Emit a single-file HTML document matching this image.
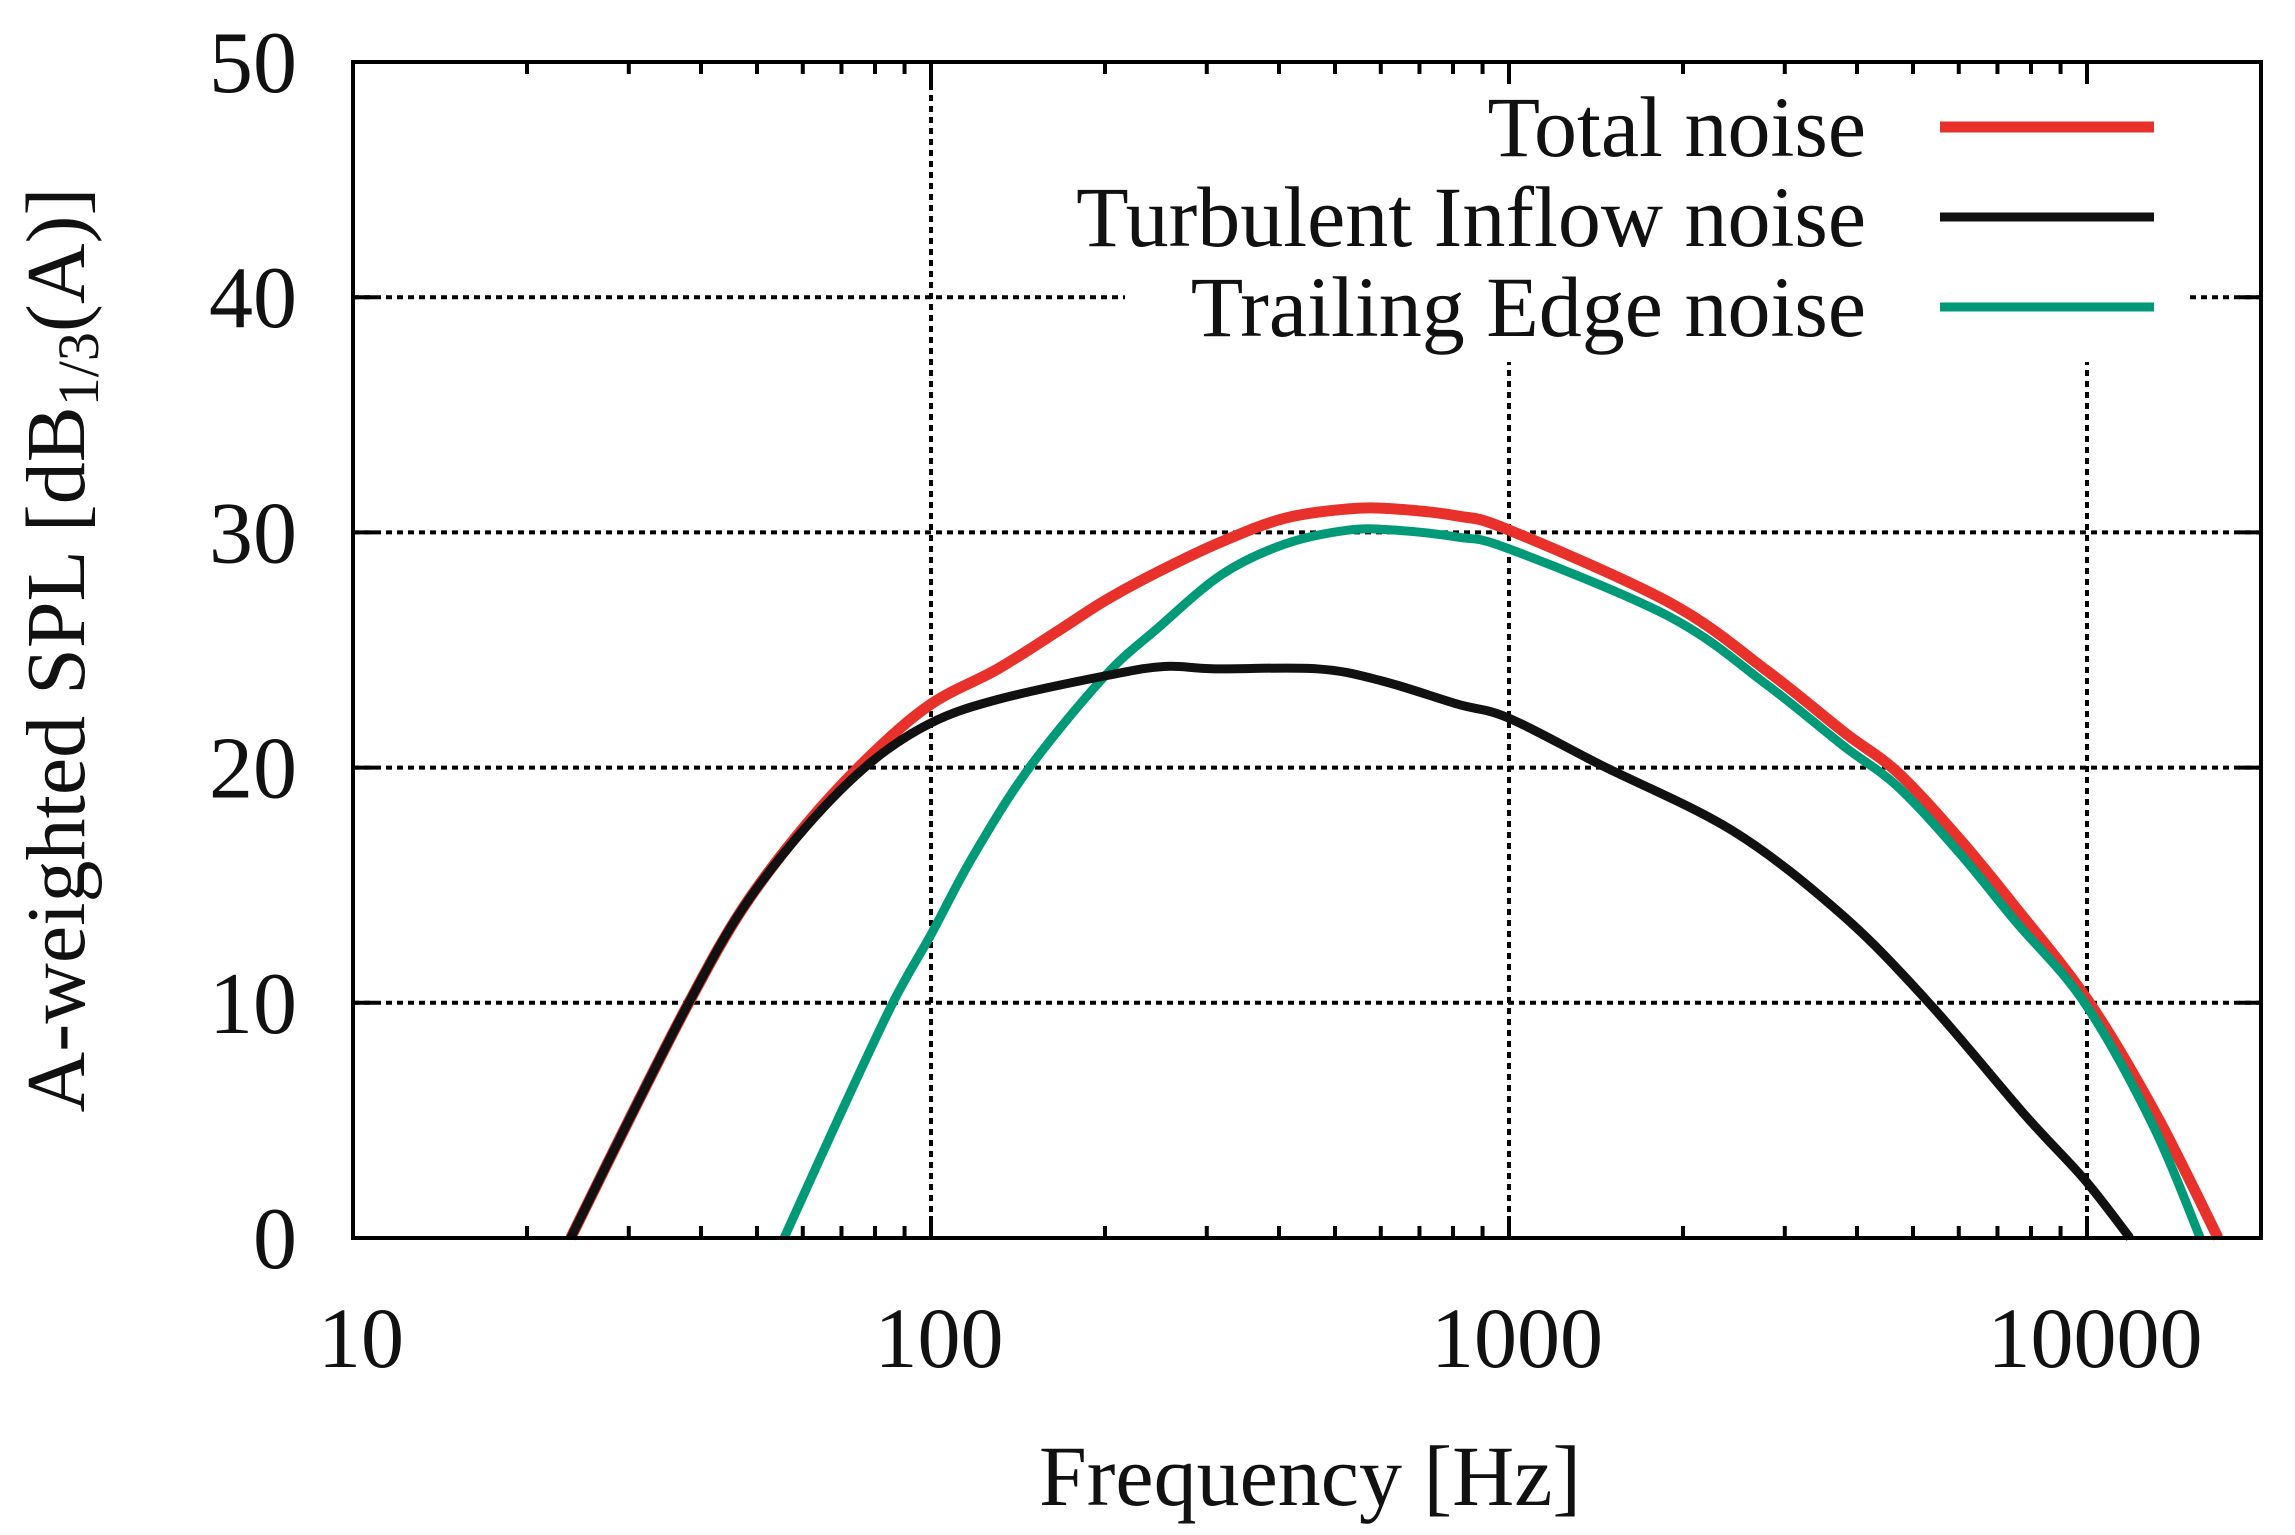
<!DOCTYPE html>
<html><head><meta charset="utf-8"><style>
html,body{margin:0;padding:0;background:#fff;}
svg{display:block;}
text{font-family:"Liberation Serif",serif;fill:#111;}
</style></head><body>
<svg id="chart" width="2295" height="1535" viewBox="0 0 2295 1535" xmlns="http://www.w3.org/2000/svg">
<g id="grid"></g>
<rect x="1125" y="80" width="1065" height="282" fill="#fff"/>
<g id="series"></g>
<g id="axes"></g>
<g id="legend"></g>
<text x="1310" y="1505" font-size="86" text-anchor="middle">Frequency [Hz]</text>
<text transform="translate(84,650) rotate(-90)" font-size="84" text-anchor="middle">A-weighted SPL [dB<tspan font-size="58" dy="14">1/3</tspan><tspan dy="-14">(A)]</tspan></text>
</svg>
<script>
const xTicks = [10, 100, 1000, 10000];
const xTickLabels = ["10", "100", "1000", "10000"];
const yTicks = [0, 10, 20, 30, 40, 50];
const yTickLabels = ["0", "10", "20", "30", "40", "50"];
const seriesNames = ["Total noise", "Turbulent Inflow noise", "Trailing Edge noise"];
const totalFreq = [23.8, 30, 38.1, 47.2, 60.9, 78.5, 100, 130.6, 168, 200, 246, 318, 409, 528, 632, 814, 1000, 1900, 2800, 3800, 4700, 6000, 7500, 10100, 13200, 16860];
const totalDb = [0, 5.0, 10, 14.0, 17.6, 20.5, 22.7, 24.2, 25.9, 27.1, 28.3, 29.6, 30.6, 31.0, 31.0, 30.7, 30.1, 27.0, 24.1, 21.5, 19.8, 17.0, 14.1, 10.0, 5.2, 0];
const inflowFreq = [23.8, 30, 38.1, 47.2, 60.9, 78.5, 100, 130.6, 200, 253, 310, 465, 600, 814, 1000, 1445, 2442, 3785, 5370, 7830, 9890, 11870];
const inflowDb = [0, 5.0, 10, 14.0, 17.5, 20.2, 21.9, 22.9, 23.9, 24.3, 24.2, 24.2, 23.7, 22.7, 22.1, 20.1, 17.3, 13.7, 9.9, 5.2, 2.5, 0];
const edgeFreq = [55.7, 69.2, 85.9, 100, 118, 148, 200, 246, 318, 409, 528, 632, 814, 1000, 1900, 2800, 3800, 4700, 6000, 7500, 9900, 13000, 15700];
const edgeDb = [0, 5.1, 10, 12.9, 16.2, 20, 23.9, 25.9, 28.2, 29.5, 30.1, 30.1, 29.8, 29.3, 26.4, 23.5, 20.9, 19.2, 16.4, 13.5, 10.0, 4.8, 0];

const NS = "http://www.w3.org/2000/svg";
const L = 353, R = 2261, T = 62, B = 1238;
const xMinLog = 1, xMaxLog = Math.log10(20000);
function xs(f){ return L + (Math.log10(f) - xMinLog) / (xMaxLog - xMinLog) * (R - L); }
function ys(v){ return B - v / 50 * (B - T); }
function mk(tag, attrs, parent){
  const e = document.createElementNS(NS, tag);
  for (const k in attrs) e.setAttribute(k, attrs[k]);
  parent.appendChild(e); return e;
}
const grid = document.getElementById('grid');
const axes = document.getElementById('axes');
const series = document.getElementById('series');
const legend = document.getElementById('legend');

xTicks.forEach((f, i) => {
  if (i === 0) return;
  const g = mk('line', {x1: xs(f), x2: xs(f), y1: T, y2: B, stroke: '#000', 'stroke-width': 4, 'stroke-dasharray': '6 5'}, grid);
  
  
});
yTicks.forEach((v) => {
  if (v === 0 || v === 50) return;
  const g = mk('line', {x1: L, x2: R, y1: ys(v), y2: ys(v), stroke: '#000', 'stroke-width': 4, 'stroke-dasharray': '6 5'}, grid);
  
  
});

function smoothPath(fx, vy){
  const p = fx.map((f, i) => [xs(f), ys(vy[i])]);
  let d = 'M' + p[0][0] + ' ' + p[0][1];
  for (let i = 0; i < p.length - 1; i++){
    const p0 = p[Math.max(i-1,0)], p1 = p[i], p2 = p[i+1], p3 = p[Math.min(i+2,p.length-1)];
    const c1 = [p1[0] + (p2[0]-p0[0])/6, p1[1] + (p2[1]-p0[1])/6];
    const c2 = [p2[0] - (p3[0]-p1[0])/6, p2[1] - (p3[1]-p1[1])/6];
    d += ' C' + c1[0] + ' ' + c1[1] + ' ' + c2[0] + ' ' + c2[1] + ' ' + p2[0] + ' ' + p2[1];
  }
  return d;
}
const redPath = mk('path', {d: smoothPath(totalFreq, totalDb), fill: 'none', stroke: '#e8312a', 'stroke-width': 11}, series);


const greenPath = mk('path', {d: smoothPath(edgeFreq, edgeDb), fill: 'none', stroke: '#009a78', 'stroke-width': 9}, series);


const blackPath = mk('path', {d: smoothPath(inflowFreq, inflowDb), fill: 'none', stroke: '#111', 'stroke-width': 9}, series);



const border = mk('rect', {x: L, y: T, width: R - L, height: B - T, fill: 'none', stroke: '#000', 'stroke-width': 4}, axes);



for (let dec = 10; dec <= 10000; dec *= 10){
  for (let m = 1; m <= 9; m++){
    const f = dec * m; if (f > 20000) break;
    const len = m === 1 ? 22 : 12;
    const x = xs(f);
    const t1 = mk('line', {x1: x, x2: x, y1: B, y2: B - len, stroke: '#000', 'stroke-width': 4}, axes);
    
    
    const t2 = mk('line', {x1: x, x2: x, y1: T, y2: T + len, stroke: '#000', 'stroke-width': 4}, axes);
    
    
  }
}
xTicks.forEach((f, i) => {
  const t = mk('text', {x: xs(f) + 8, y: 1367, 'font-size': 86, 'text-anchor': 'middle'}, axes);
  t.textContent = xTickLabels[i];
  
  
});
yTicks.forEach((v, i) => {
  const a = mk('line', {x1: L, x2: L + 22, y1: ys(v), y2: ys(v), stroke: '#000', 'stroke-width': 4}, axes);
  
  
  const b = mk('line', {x1: R, x2: R - 22, y1: ys(v), y2: ys(v), stroke: '#000', 'stroke-width': 4}, axes);
  
  
  const t = mk('text', {x: 297, y: ys(v) + 30, 'font-size': 88, 'text-anchor': 'end'}, axes);
  t.textContent = yTickLabels[i];
  
  
});

const legColors = ['#e8312a', '#111', '#009a78'];
const legWidths = [11, 9, 9];
const legY = [127, 217, 307];
seriesNames.forEach((n, i) => {
  const t = mk('text', {x: 1866, y: legY[i] + 29, 'font-size': 86, 'text-anchor': 'end'}, legend);
  t.textContent = n;
  
  
  const l = mk('line', {x1: 1940, x2: 2154, y1: legY[i], y2: legY[i], stroke: legColors[i], 'stroke-width': legWidths[i]}, legend);
  
  
});
</script>
</body></html>
